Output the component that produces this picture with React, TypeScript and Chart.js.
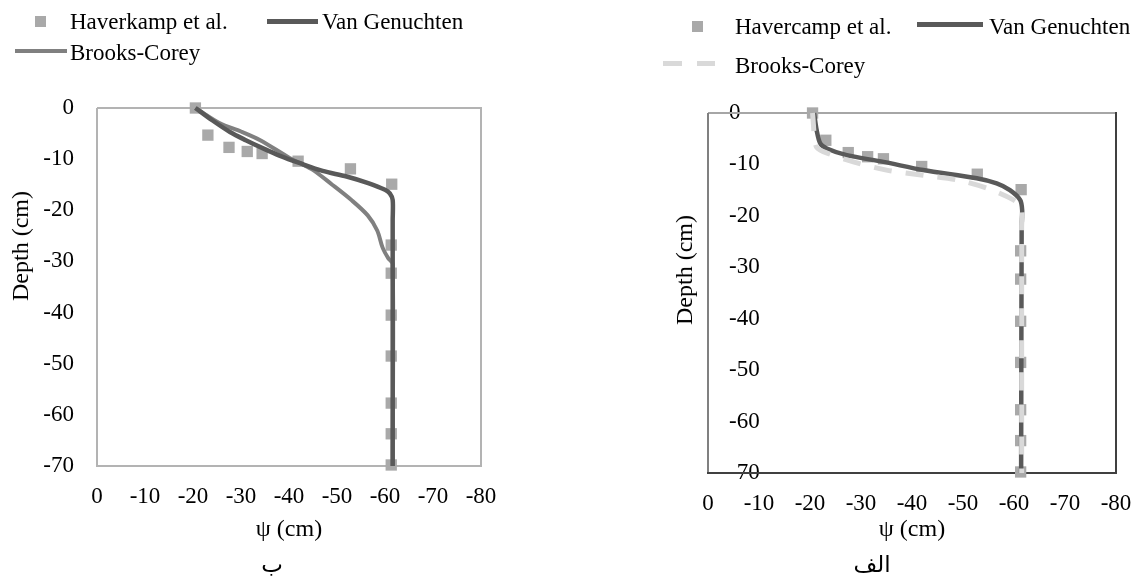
import React, { useEffect, useRef } from 'react';
import Chart from 'chart.js/auto';

const SERIF = '"Liberation Serif", "Times New Roman", serif';

// measured profile (Haverkamp / Havercamp et al.), same points in both panels
const obsPsi = [-20.5, -23.1, -27.5, -31.3, -34.4, -41.9, -52.8, -61.4, -61.3, -61.3, -61.3, -61.3, -61.3, -61.3, -61.3];
const obsDepth = [0, -5.3, -7.7, -8.5, -8.9, -10.4, -11.9, -14.9, -26.8, -32.3, -40.5, -48.5, -57.7, -63.7, -69.8];

// panel ب
const vgPsiB = [-20.5, -24.0, -27.7, -31.0, -34.6, -38.0, -42.3, -47.0, -52.0, -56.5, -60.0, -61.0, -61.6, -61.6, -61.6];
const vgDepthB = [0, -2.4, -4.7, -6.3, -7.9, -9.3, -10.8, -12.3, -13.4, -14.7, -16.0, -16.7, -18.0, -22.0, -70];
const bcPsiB = [-20.5, -25.6, -30.0, -34.0, -40.2, -44.8, -49.0, -53.0, -56.4, -58.4, -59.5, -60.7, -61.6, -61.6];
const bcDepthB = [0, -3.0, -4.6, -6.3, -9.8, -12.0, -15.0, -18.0, -21.0, -24.0, -27.3, -29.4, -30.5, -70];

// panel الف
const vgPsiA = [-20.8, -21.3, -22.0, -23.3, -27.2, -34.4, -42.2, -52.7, -56.6, -59.2, -61.2, -61.6, -61.5, -61.4];
const vgDepthA = [0, -3.3, -5.9, -6.9, -8.2, -9.5, -11.1, -12.7, -13.7, -15.0, -16.9, -18.9, -22.0, -70];
const bcPsiA = [-20.5, -21.2, -22.6, -28.5, -35.0, -42.2, -48.8, -54.6, -59.9, -61.5, -61.5, -61.5];
const bcDepthA = [0, -6.5, -7.5, -9.5, -11.1, -12.1, -13.0, -14.6, -16.9, -18.5, -22.0, -70];

const psiTicks = [0, -10, -20, -30, -40, -50, -60, -70, -80];
const depthTicks = [0, -10, -20, -30, -40, -50, -60, -70];

const toPoints = (xs: number[], ys: number[]) => xs.map((x, i) => ({ x, y: ys[i] }));

type Frame = { top: string; right: string; bottom: string; left: string };

// plot area border, drawn under the data
const framePlugin = (frame: Frame) => ({
  id: 'frame',
  beforeDatasetsDraw(chart: any) {
    const { ctx, chartArea } = chart;
    const { left, right, top, bottom } = chartArea;
    const side = (color: string, x1: number, y1: number, x2: number, y2: number) => {
      ctx.beginPath();
      ctx.strokeStyle = color;
      ctx.moveTo(x1, y1);
      ctx.lineTo(x2, y2);
      ctx.stroke();
    };
    ctx.save();
    ctx.lineWidth = 2;
    side(frame.top, left, top, right, top);
    side(frame.left, left, top, left, bottom);
    side(frame.bottom, left - 1, bottom, right + 1, bottom);
    side(frame.right, right, top - 1, right, bottom + 1);
    ctx.restore();
  },
});

type PanelProps = {
  left: number;
  width: number;
  padTop: number;
  padRight: number;
  yWidth: number;
  xHeight: number;
  mirror: boolean;
  yPad: number;
  frame: Frame;
  datasets: any[];
};

const Panel: React.FC<PanelProps> = (p) => {
  const canvasRef = useRef<HTMLCanvasElement | null>(null);

  useEffect(() => {
    if (!canvasRef.current) return;
    const chart = new Chart(canvasRef.current, {
      type: 'scatter',
      data: { datasets: p.datasets },
      options: {
        animation: false,
        responsive: true,
        maintainAspectRatio: false,
        events: [],
        layout: { padding: { top: p.padTop, right: p.padRight, left: 0, bottom: 0 } },
        plugins: { legend: { display: false }, tooltip: { enabled: false } },
        scales: {
          x: {
            type: 'linear',
            min: -80,
            max: 0,
            reverse: true,
            afterBuildTicks: (s: any) => { s.ticks = psiTicks.map((value) => ({ value })); },
            afterFit: (s: any) => { s.height = p.xHeight; },
            grid: { display: false, drawTicks: false },
            border: { display: false },
            ticks: {
              font: { family: SERIF, size: 23 },
              color: '#000',
              padding: 17,
              maxRotation: 0,
              autoSkip: false,
              callback: (v: any) => String(v),
            },
            title: {
              display: true,
              text: 'ψ (cm)',
              font: { family: SERIF, size: 24 },
              color: '#000',
              padding: { top: 0, bottom: 37 },
            },
          },
          y: {
            type: 'linear',
            min: -70,
            max: 0,
            afterBuildTicks: (s: any) => { s.ticks = depthTicks.map((value) => ({ value })); },
            afterFit: (s: any) => { s.width = p.yWidth; },
            grid: { display: false, drawTicks: false },
            border: { display: false },
            ticks: {
              font: { family: SERIF, size: 23 },
              color: '#000',
              padding: p.yPad,
              mirror: p.mirror,
              autoSkip: false,
              callback: (v: any) => String(v),
            },
          },
        },
      },
      plugins: [framePlugin(p.frame)],
    });
    return () => chart.destroy();
  }, []);

  return (
    <div style={{ position: 'absolute', left: p.left, top: 0, width: p.width, height: 581 }}>
      <canvas ref={canvasRef}></canvas>
    </div>
  );
};

const txt = (left: number, top: number, text: string, size = 23): React.ReactNode => (
  <div style={{ position: 'absolute', left, top, fontFamily: SERIF, fontSize: size, lineHeight: 1, whiteSpace: 'nowrap', color: '#000' }}>
    {text}
  </div>
);

const box = (left: number, top: number, w: number, h: number, color: string): React.ReactNode => (
  <div style={{ position: 'absolute', left, top, width: w, height: h, background: color }}></div>
);

const yTitle = (cx: number, cy: number): React.ReactNode => (
  <div style={{
    position: 'absolute', left: cx, top: cy, transform: 'translate(-50%, -50%) rotate(-90deg)',
    fontFamily: SERIF, fontSize: 24, lineHeight: 1, whiteSpace: 'nowrap', color: '#000',
  }}>Depth (cm)</div>
);

const caption = (cx: number, top: number, text: string): React.ReactNode => (
  <div dir="rtl" style={{
    position: 'absolute', left: cx, top, transform: 'translateX(-50%)',
    fontFamily: '"DejaVu Sans", "Noto Sans", sans-serif', fontSize: 23, lineHeight: 1, color: '#000',
  }}>{text}</div>
);

const OBS = '#a9a9a9';
const VG = '#595959';
const BC_B = '#808080';
const BC_A = '#d9d9d9';

const App: React.FC = () => {
  const obsSet = (label: string) => ({
    label,
    data: toPoints(obsPsi, obsDepth),
    showLine: false,
    pointStyle: 'rect',
    pointRadius: 8,
    backgroundColor: OBS,
    borderColor: OBS,
    borderWidth: 0,
    clip: false,
  });

  const datasetsB = [
    { label: 'Van Genuchten', data: toPoints(vgPsiB, vgDepthB), showLine: true, pointRadius: 0, borderColor: VG, borderWidth: 4.5, tension: 0.3, clip: false },
    { label: 'Brooks-Corey', data: toPoints(bcPsiB, bcDepthB), showLine: true, pointRadius: 0, borderColor: BC_B, borderWidth: 4, tension: 0.3, clip: false },
    obsSet('Haverkamp et al.'),
  ];

  const datasetsA = [
    { label: 'Brooks-Corey', data: toPoints(bcPsiA, bcDepthA), showLine: true, pointRadius: 0, borderColor: BC_A, borderWidth: 5, borderDash: [18, 14], tension: 0.3, clip: false },
    { label: 'Van Genuchten', data: toPoints(vgPsiA, vgDepthA), showLine: true, pointRadius: 0, borderColor: VG, borderWidth: 4.5, tension: 0.3, clip: false },
    obsSet('Havercamp et al.'),
  ];

  return (
    <div style={{ position: 'absolute', left: 0, top: 0, width: 1135, height: 581, background: '#fff', overflow: 'hidden' }}>
      <Panel left={0} width={560} padTop={108} padRight={79} yWidth={97} xHeight={115} mirror={false} yPad={23}
        frame={{ top: '#b3b3b3', right: '#b3b3b3', bottom: '#b3b3b3', left: '#b3b3b3' }} datasets={datasetsB} />
      <Panel left={560} width={592} padTop={113} padRight={36} yWidth={148} xHeight={108} mirror={true} yPad={21}
        frame={{ top: '#a6a6a6', right: '#404040', bottom: '#404040', left: '#808080' }} datasets={datasetsA} />

      {/* legend ب */}
      {box(35, 16, 11, 11, OBS)}
      {txt(70, 10, 'Haverkamp et al.')}
      {box(267, 19, 51, 5, VG)}
      {txt(322, 10, 'Van Genuchten')}
      {box(15, 49, 52, 4, BC_B)}
      {txt(70, 41, 'Brooks-Corey')}

      {/* legend الف */}
      {box(692, 21, 11, 11, OBS)}
      {txt(735, 15, 'Havercamp et al.')}
      {box(917, 22, 66, 5, VG)}
      {txt(989, 15, 'Van Genuchten')}
      {box(663, 61, 19, 5, BC_A)}
      {box(697, 61, 18, 5, BC_A)}
      {txt(735, 54, 'Brooks-Corey')}

      {yTitle(20, 246)}
      {yTitle(684, 270)}
      {caption(272, 553, 'ب')}
      {caption(872, 553, 'الف')}
    </div>
  );
};

export default App;
